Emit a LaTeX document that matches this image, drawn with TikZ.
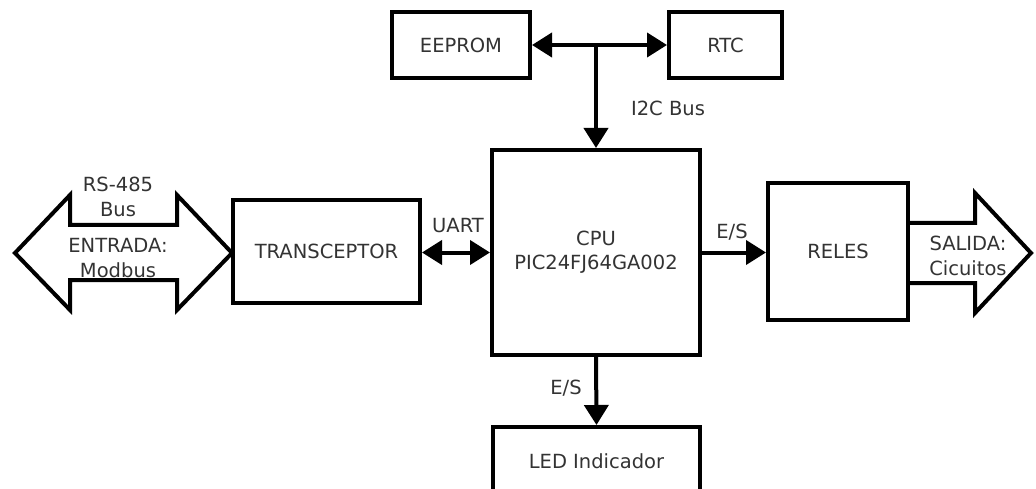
\documentclass[tikz,border=0pt]{standalone}
\usepackage{fontspec}
\setmainfont{DejaVu Sans}
\usetikzlibrary{arrows.meta}
\begin{document}
\begin{tikzpicture}[x=1pt,y=-1pt,
  blk/.style={draw=black,line width=4pt,fill=white,inner sep=0pt,font=\fontsize{19.5}{24}\selectfont,text=black!80},
  lbl/.style={inner sep=0pt,font=\fontsize{19.5}{24}\selectfont,text=black!80},
  conn/.style={line width=4pt,draw=black},
  tip/.style={-{Triangle[length=20pt,width=24pt]}},
  bigarrow/.style={line width=4pt,draw=black,line join=miter}]
\useasboundingbox (0,0) rectangle (1036,489);
\clip (0,0) rectangle (1036,489);
\node[blk,minimum width=138pt,minimum height=66pt] (eeprom) at (461,45) {EEPROM};
\node[blk,minimum width=113pt,minimum height=66pt] (rtc) at (725.5,45) {RTC};
\node[blk,minimum width=208pt,minimum height=205pt,align=center] (cpu) at (596,252.5) {CPU\\PIC24FJ64GA002};
\node[blk,minimum width=187pt,minimum height=103pt] (trans) at (326.5,251.5) {TRANSCEPTOR};
\node[blk,minimum width=140pt,minimum height=137pt] (reles) at (838,251.5) {RELES};
\node[blk,minimum width=207pt,minimum height=76pt,anchor=north] (led) at (596.5,425) {};
\node[lbl] (ledtxt) at (596.5,461) {LED Indicador};
\coordinate (jn) at (cpu.north |- eeprom.east);
% I2C bus
\draw[conn,tip] (jn) -- (eeprom.east);
\draw[conn,tip] (jn) -- (rtc.west);
\draw[conn,tip] (jn) -- (cpu.north);
\node[lbl] (i2c) at (668,108) {I2C Bus};
% UART
\draw[conn,{Triangle[length=20pt,width=24pt]}-{Triangle[length=20pt,width=24pt]}] (trans.east |- cpu.center) -- (cpu.west);
\node[lbl] (uart) at (458,226) {UART};
% E/S right
\draw[conn,tip] (cpu.east) -- (reles.west |- cpu.east);
\node[lbl] (esr) at (732,232) {E/S};
% E/S bottom
\draw[conn,tip] (cpu.south) -- (led.north);
\node[lbl] (esb) at (566,388) {E/S};
% left big double arrow
\draw[bigarrow] (15,253) -- (70,195) -- (70,225) -- (177,225) -- (177,195) -- (232,253)
  -- (177,310) -- (177,280) -- (70,280) -- (70,310) -- cycle;
\node[lbl] (rs1) at (118,184) {RS-485};
\node[lbl] (rs2) at (118,210) {Bus};
\node[lbl] (en1) at (118,245) {ENTRADA:};
\node[lbl] (en2) at (118,270) {Modbus};
% right big arrow
\draw[bigarrow] (908,223) -- (975,223) -- (975,193) -- (1031,253) -- (975,313) -- (975,283) -- (908,283);
\node[lbl] (sa1) at (968,243) {SALIDA:};
\node[lbl] (sa2) at (968,268) {Cicuitos};
\end{tikzpicture}
\end{document}
